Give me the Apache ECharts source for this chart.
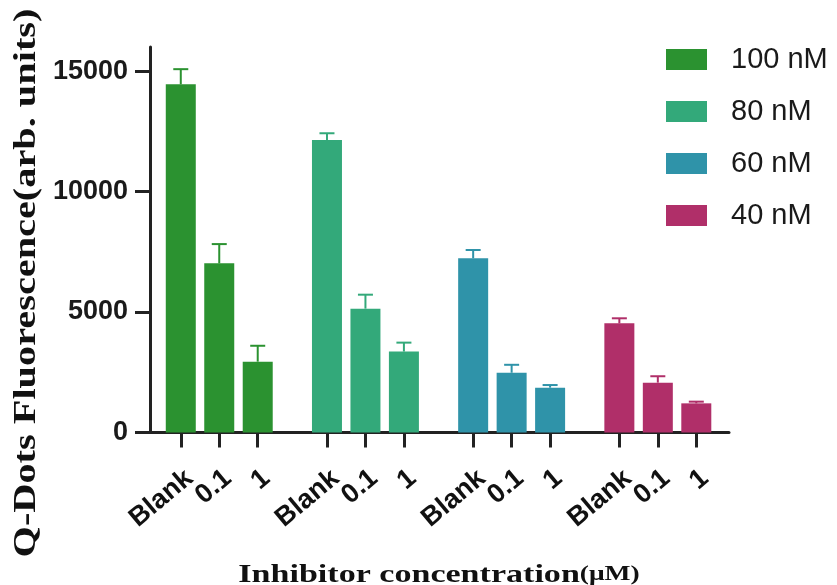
<!DOCTYPE html>
<html>
<head>
<meta charset="utf-8">
<script src="https://cdn.jsdelivr.net/npm/echarts@6/dist/echarts.min.js"></script>
<style>
  html, body { margin: 0; padding: 0; background: #ffffff; }
  #chart { width: 837px; height: 585px; }
</style>
</head>
<body>
<div id="chart"></div>
<script>
// Inhibitor doses within each Q-dot concentration group
const doses = ['Blank', '0.1', '1'];
// Q-dot concentrations (one bar series each)
const concentrations = ['100 nM', '80 nM', '60 nM', '40 nM'];
const colors = ['#2b9230', '#33a97a', '#2f93a9', '#b02f69'];

// Mean fluorescence (arb. units) for Blank, 0.1 µM, 1 µM
const fluo100 = [14450, 7020, 2940];
const fluo80  = [12140, 5140, 3360];
const fluo60  = [7230, 2480, 1860];
const fluo40  = [4530, 2070, 1210];
// Upper error (SD)
const err100 = [630, 800, 660];
const err80  = [280, 580, 370];
const err60  = [345, 330, 110];
const err40  = [210, 265, 70];

// Y-axis tick values
const yTicks = [0, 5000, 10000, 15000];

const means = [fluo100, fluo80, fluo60, fluo40];
const errs = [err100, err80, err60, err40];

// Place bars on a numeric x axis: one unit per dose, wider step between groups
const GROUP_STEP = 3.8;
const X_MIN = -0.8, X_MAX = 14.25;
const xPos = (g, i) => +(g * GROUP_STEP + i).toFixed(3);
const tickPositions = [];
const outerPositions = [];   // 'Blank' and '1' labels
const middlePositions = [];  // '0.1' labels
const tickNames = {};
concentrations.forEach((c, g) => doses.forEach((d, i) => {
  const p = xPos(g, i);
  tickPositions.push(p);
  (i === 1 ? middlePositions : outerPositions).push(p);
  tickNames[p.toFixed(3)] = d;
}));

const barSeries = concentrations.map((name, g) => ({
  name: name,
  type: 'bar',
  barWidth: 30,
  barGap: '-100%',
  itemStyle: { color: colors[g] },
  data: means[g].map((v, i) => [xPos(g, i), v]),
  z: 2
}));

const errorSeries = concentrations.map((name, g) => ({
  type: 'custom',
  z: 3,
  data: means[g].map((v, i) => [xPos(g, i), v, errs[g][i]]),
  renderItem: function (params, api) {
    const x = api.value(0), v = api.value(1), e = api.value(2);
    const base = api.coord([x, v]);
    const top = api.coord([x, v + e]);
    const half = 7.5;
    const style = { stroke: colors[g], lineWidth: 2 };
    return {
      type: 'group',
      children: [
        { type: 'line', shape: { x1: base[0], y1: base[1], x2: top[0], y2: top[1] }, style: style },
        { type: 'line', shape: { x1: top[0] - half, y1: top[1], x2: top[0] + half, y2: top[1] }, style: style }
      ]
    };
  }
}));

// Shared look of the rotated dose labels
const doseLabel = (values) => ({
  customValues: values,
  rotate: 40,
  margin: 32,
  verticalAlign: 'top',
  hideOverlap: false,
  fontFamily: 'Liberation Sans',
  fontWeight: 'bold',
  fontSize: 27,
  color: '#111',
  formatter: v => tickNames[(+v).toFixed(3)] || ''
});

const chart = echarts.init(document.getElementById('chart'), null, { renderer: 'canvas' });
chart.setOption({
  backgroundColor: '#ffffff',
  animation: false,
  grid: { left: 150, right: 108, top: 47, bottom: 152.5, containLabel: false },
  legend: {
    data: concentrations,
    orient: 'vertical',
    left: 661,
    top: 40,
    itemWidth: 41,
    itemHeight: 21,
    itemGap: 23,
    icon: 'rect',
    textStyle: { fontFamily: 'Liberation Sans', fontSize: 29, color: '#1a1a1a', padding: [0, 0, 0, 19] }
  },
  xAxis: [
    {
      type: 'value',
      position: 'bottom',
      min: X_MIN,
      max: X_MAX,
      splitLine: { show: false },
      axisLine: { show: true, onZero: false, lineStyle: { color: '#222', width: 3 } },
      axisTick: { show: true, length: 15, customValues: tickPositions, lineStyle: { color: '#222', width: 3 } },
      axisLabel: doseLabel(outerPositions)
    },
    {
      type: 'value',
      position: 'bottom',
      offset: 0,
      min: X_MIN,
      max: X_MAX,
      splitLine: { show: false },
      axisLine: { show: false, onZero: false },
      axisTick: { show: false },
      axisLabel: doseLabel(middlePositions)
    }
  ],
  yAxis: {
    type: 'value',
    min: 0,
    max: 16000,
    splitLine: { show: false },
    axisLine: { show: true, onZero: false, lineStyle: { color: '#222', width: 3 } },
    axisTick: { show: true, length: 15, customValues: yTicks, lineStyle: { color: '#222', width: 3 } },
    axisLabel: {
      customValues: yTicks,
      margin: 22,
      hideOverlap: false,
      fontFamily: 'Liberation Sans',
      fontWeight: 'bold',
      fontSize: 27,
      color: '#1a1a1a',
      formatter: v => String(v)
    }
  },
  graphic: [
    {
      type: 'text',
      x: 27,
      y: 283,
      rotation: Math.PI / 2,
      scaleX: 1.3,
      style: {
        text: 'Q-Dots Fluorescence(arb. units)',
        fontFamily: 'Liberation Serif',
        fontWeight: 'bold',
        fontSize: 31,
        fill: '#111',
        align: 'center',
        verticalAlign: 'middle'
      }
    },
    {
      type: 'text',
      x: 439,
      y: 575,
      scaleX: 1.31,
      style: {
        text: '{a|Inhibitor concentration}{b|(μM)}',
        rich: {
          a: { fontFamily: 'Liberation Serif', fontWeight: 'bold', fontSize: 26, fill: '#111' },
          b: { fontFamily: 'Liberation Serif', fontWeight: 'bold', fontSize: 21, fill: '#111' }
        },
        align: 'center',
        verticalAlign: 'middle'
      }
    }
  ],
  series: barSeries.concat(errorSeries)
});
</script>
</body>
</html>
